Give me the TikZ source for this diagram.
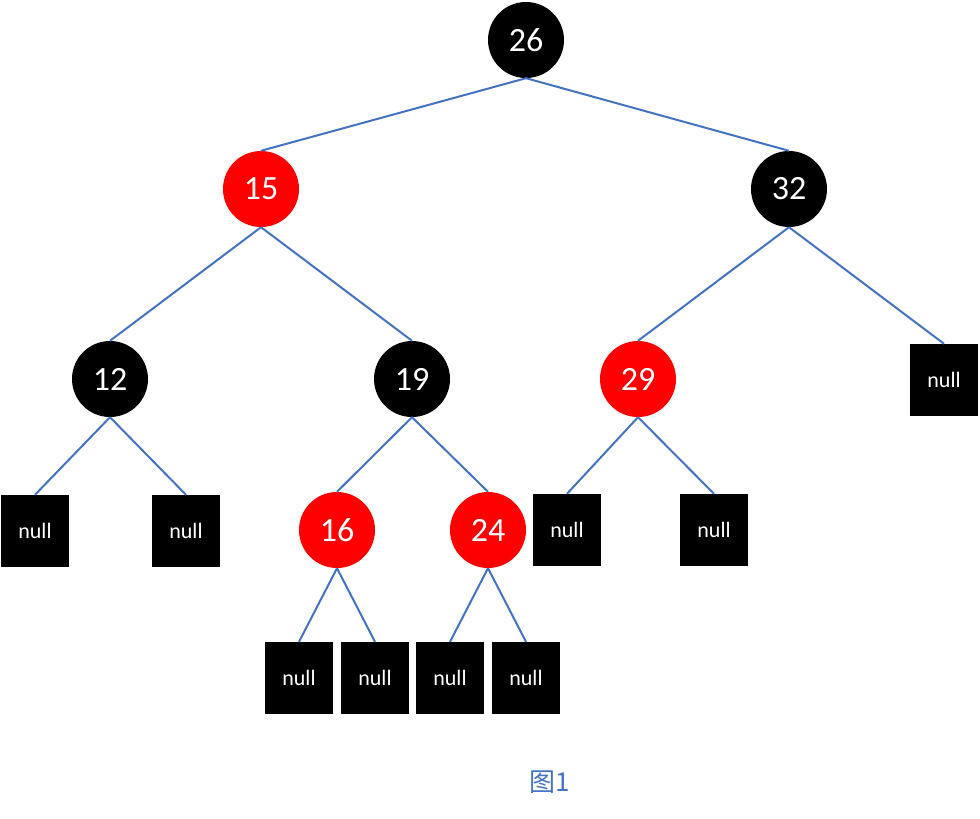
\documentclass[tikz,border=0pt]{standalone}
\usepackage{fontspec}
\setmainfont{Carlito}
\newfontfamily\cjk{Noto Sans CJK SC}
\definecolor{eblue}{HTML}{4472C4}
\definecolor{nred}{HTML}{FF0000}
\begin{document}
\begin{tikzpicture}[x=1pt,y=-1pt,
  bn/.style={circle,fill=black,text=white,minimum size=76pt,inner sep=0pt,font=\fontsize{34}{34}\selectfont},
  rn/.style={bn,fill=nred},
  nl/.style={rectangle,fill=black,text=white,minimum width=68pt,minimum height=72pt,inner sep=0pt,font=\fontsize{22}{22}\selectfont},
  ed/.style={draw=eblue,line width=2pt}]
\useasboundingbox (0,0) rectangle (980,819);
\node[bn] (n26) at (526,40) {26};
\node[rn] (n15) at (261,189) {15};
\node[bn] (n32) at (789,189) {32};
\node[bn] (n12) at (110,379) {12};
\node[bn] (n19) at (412,379) {19};
\node[rn] (n29) at (638,379) {29};
\node[nl] (a) at (944,380) {null};
\node[nl] (b) at (35,531) {null};
\node[nl] (c) at (186,531) {null};
\node[rn] (n16) at (337,530) {16};
\node[rn] (n24) at (488,530) {24};
\node[nl] (d) at (567,530) {null};
\node[nl] (e) at (714,530) {null};
\node[nl] (f) at (299,678) {null};
\node[nl] (g) at (375,678) {null};
\node[nl] (h) at (450,678) {null};
\node[nl] (i) at (526,678) {null};
\node[text=eblue,font=\cjk\fontsize{26}{26}\selectfont] (cap) at (550,782) {图1};
\foreach \p/\c in {n26/n15,n26/n32,n15/n12,n15/n19,n32/n29,n32/a,n12/b,n12/c,n19/n16,n19/n24,n29/d,n29/e,n16/f,n16/g,n24/h,n24/i}
  \draw[ed] (\p.south) -- (\c.north);
\end{tikzpicture}
\end{document}
